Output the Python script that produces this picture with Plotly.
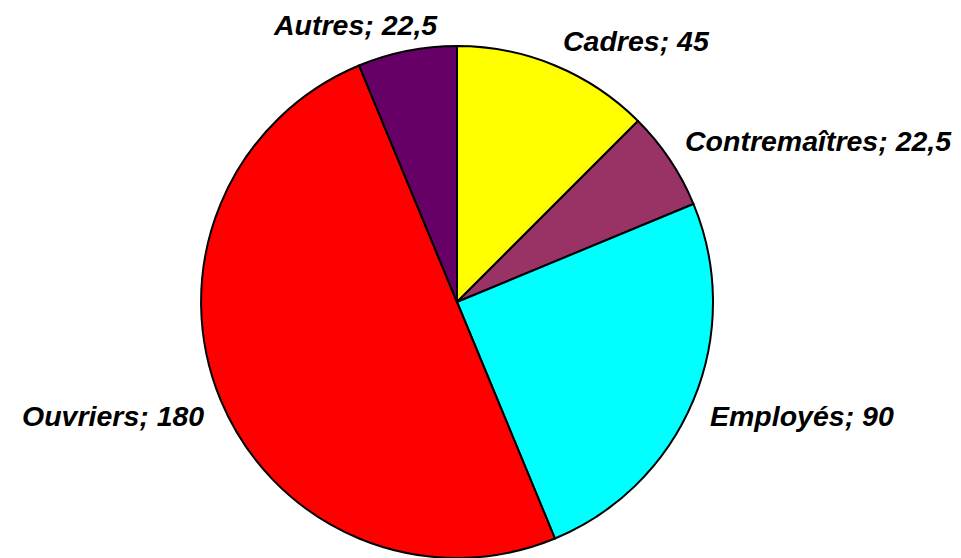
import math
import plotly.graph_objects as go

categories = ['Cadres', 'Contremaîtres', 'Employés', 'Ouvriers', 'Autres']
values     = [45, 22.5, 90, 180, 22.5]
colors     = ['#FFFF00', '#993366', '#00FFFF', '#FF0000', '#660066']

W, H   = 961, 558
cx, cy = 449, 294      # pie centre, px from top-left
r      = 256
gap    = 16
fsize  = 28.5

# Excel-style labels with decimal comma.
labels_txt = [f"{c}; {str(v).replace('.', ',').removesuffix(',0')}"
              for c, v in zip(categories, values)]

fig = go.Figure(go.Pie(
    labels = categories, values = values,
    sort = False, direction = 'clockwise', rotation = 0,
    marker = dict(colors = colors, line = dict(color = 'black', width = 2)),
    textinfo = 'none', hoverinfo = 'label+value',
    domain = dict(x = [(cx - r) / W, (cx + r) / W],
                  y = [1 - (cy + r) / H, 1 - (cy - r) / H]),
    showlegend = False,
))

# Labels outside the slices, anchored at the mid-angle like Excel does.
total = sum(values)
cum = 0
for txt, v in zip(labels_txt, values):
    mid = 2 * math.pi * (cum + v / 2) / total
    cum += v
    dx, dy = math.sin(mid), -math.cos(mid)
    px_, py_ = cx + dx * (r + gap), cy + dy * (r + gap)
    # fraction of the label width that lies left of the anchor point
    f = min(1, max(0, 0.5 - 1.5 * dx))
    if f == 0:
        xanchor = 'left'
    elif f == 1:
        xanchor = 'right'
    else:
        xanchor = 'center'
        px_ += (0.5 - f) * 0.48 * fsize * len(txt)
    fig.add_annotation(x = px_ / W, y = 1 - py_ / H, xref = 'paper', yref = 'paper',
                       text = f"<b><i>{txt}</i></b>", showarrow = False,
                       xanchor = xanchor,
                       yanchor = 'bottom' if dy < 0 else 'top',
                       yshift = 8 if dy > 0 else -8,
                       font = dict(family = 'Liberation Sans, Arial', size = fsize,
                                   color = 'black'))

fig.update_layout(width = W, height = H,
                  margin = dict(l = 0, r = 0, t = 0, b = 0),
                  paper_bgcolor = 'white', plot_bgcolor = 'white')
fig.write_html("out.html")
